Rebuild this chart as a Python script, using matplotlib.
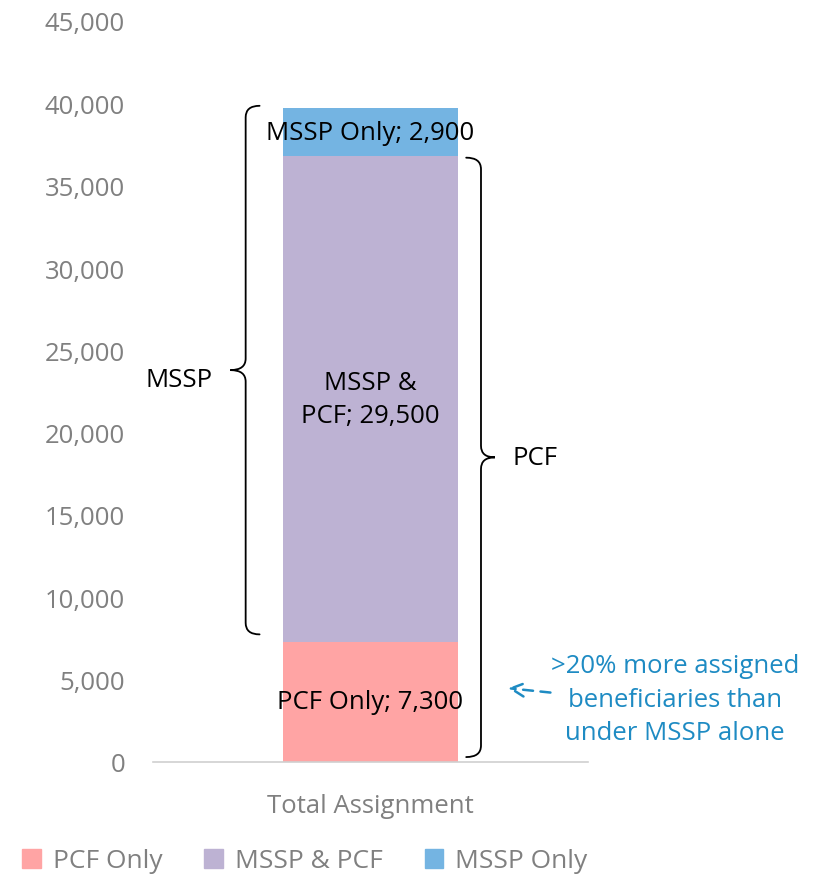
import matplotlib.pyplot as plt
from matplotlib.path import Path
from matplotlib.patches import PathPatch, Patch
from matplotlib.ticker import FuncFormatter

plt.rcParams['font.family'] = ['Open Sans', 'DejaVu Sans']

category = "Total Assignment"
segments = ["PCF Only", "MSSP & PCF", "MSSP Only"]
values = [7300, 29500, 2900]
seg_labels = ["PCF Only; 7,300", "MSSP &\nPCF; 29,500", "MSSP Only; 2,900"]
colors = ["#FFA4A4", "#BDB2D3", "#74B4E2"]
yticks = list(range(0, 45001, 5000))

GRAY = "#808080"
BLUE = "#1E8BC3"
FS = 18.5


def brace(ax, x, y0, y1, width, tip, r_x, r_y, **kw):
    # curly brace in data coords; ends curl towards x+width, tip points to x+tip
    ym = (y0 + y1) / 2
    xe = x + width
    xt = x + tip
    verts = [
        (xe, y1), (x, y1), (x, y1 - r_y),
        (x, ym + r_y),
        (x, ym), (xt, ym),
        (x, ym), (x, ym - r_y),
        (x, y0 + r_y),
        (x, y0), (xe, y0),
    ]
    codes = [Path.MOVETO, Path.CURVE3, Path.CURVE3,
             Path.LINETO,
             Path.CURVE3, Path.CURVE3,
             Path.CURVE3, Path.CURVE3,
             Path.LINETO,
             Path.CURVE3, Path.CURVE3]
    ax.add_patch(PathPatch(Path(verts, codes), fill=False, lw=1.3,
                           color="black", capstyle="round", **kw))


fig = plt.figure(figsize=(8.21, 8.87), dpi=100)
ax = fig.add_axes([153 / 821, 124 / 887, 435 / 821, 741 / 887])

bottom = 0
for v, c, lab, txt in zip(values, colors, segments, seg_labels):
    ax.bar(0, v, width=0.402, bottom=bottom, color=c, label=lab, zorder=2)
    ax.text(0, bottom + v / 2, txt, ha="center", va="center",
            fontsize=FS, color="black", zorder=3, linespacing=1.4)
    bottom += v

total = sum(values)
both_top = values[0] + values[1]

ax.set_xlim(-0.5, 0.5)
ax.set_ylim(0, 45000)
ax.set_yticks(yticks)
ax.yaxis.set_major_formatter(FuncFormatter(lambda v, p: f"{int(v):,}"))
ax.tick_params(axis="y", length=0, labelsize=FS, labelcolor=GRAY, pad=20)
ax.set_xticks([0])
ax.set_xticklabels([category])
ax.tick_params(axis="x", length=0, labelsize=FS, labelcolor=GRAY, pad=22)
for s in ["top", "right", "left"]:
    ax.spines[s].set_visible(False)
ax.spines["bottom"].set_color("#D0D0D0")
ax.spines["bottom"].set_linewidth(1.2)

# MSSP brace (left) and PCF brace (right)
brace(ax, -0.287, values[0] + 450, total + 150, 0.032, -0.035, 0.03, 700,
      clip_on=False)
ax.text(-0.362, (values[0] + total) / 2 - 300, "MSSP", ha="right",
        va="center", fontsize=FS)
brace(ax, 0.254, 300, both_top - 100, -0.034, 0.032, -0.03, 700,
      clip_on=False)
ax.text(0.327, both_top / 2 + 100, "PCF", ha="left", va="center",
        fontsize=FS)

ax.annotate("", xy=(0.31, 4500), xytext=(0.42, 4200),
            arrowprops=dict(arrowstyle="->", color=BLUE, lw=1.8,
                            linestyle=(0, (4, 3)), mutation_scale=24),
            annotation_clip=False)
ax.text(0.70, 3800, ">20% more assigned\nbeneficiaries than\nunder MSSP alone",
        ha="center", va="center", fontsize=FS, color=BLUE,
        linespacing=1.45, clip_on=False)

handles = [Patch(color=c) for c in colors]
leg = fig.legend(handles, segments, loc="center left",
                 bbox_to_anchor=(0.011, 25 / 887), ncol=3, frameon=False,
                 fontsize=19, handlelength=0.7, handleheight=0.7,
                 handletextpad=0.45, columnspacing=1.6, borderpad=0)
for t in leg.get_texts():
    t.set_color(GRAY)

fig.savefig("out.png", dpi=100)
